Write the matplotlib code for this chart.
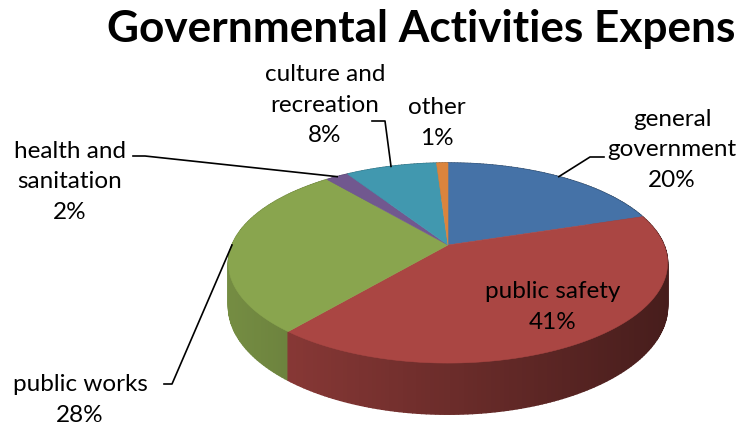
import matplotlib.pyplot as plt
import numpy as np
from matplotlib.patches import Polygon
from matplotlib.colors import to_rgb

# chart data
categories = ['general\ngovernment', 'public safety', 'public works',
              'health and\nsanitation', 'culture and\nrecreation', 'other']
shares = [20, 41, 28, 2, 8, 1]
colors = ['#4572A7', '#AA4643', '#89A54E', '#71588F', '#4198AF', '#DB843D']
title = 'Governmental Activities Expens'

# layout of the 3d pie (pixel space, y down)
CX, CY = 448, 245
RX, RY = 216, 96.8
PERSP = 0.18
DEPTH = 42

plt.rcParams['font.family'] = ['Lato', 'DejaVu Sans']

fig = plt.figure(figsize=(7.39, 4.34), dpi=100)
ax = fig.add_axes([0, 0, 1, 1])
ax.set_xlim(0, 739)
ax.set_ylim(434, 0)
ax.axis('off')


def project(theta, drop=0.0):
    # theta in degrees, clockwise starting at the back (12 o'clock)
    t = np.radians(theta)
    x, z = np.sin(t), np.cos(t)
    s = 1.0 / (1.0 + PERSP * z)
    return CX + RX * x * s, CY - RY * z * s + drop * s


total = float(sum(shares))
bounds = np.concatenate([[0], np.cumsum(shares)]) / total * 360.0

# side wall, drawn back to front
quads = []
for i, col in enumerate(colors):
    a0, a1 = bounds[i], bounds[i + 1]
    n = max(2, int(np.ceil(a1 - a0)))
    angs = np.linspace(a0, a1, n + 1)
    for j in range(n):
        ta, tb = angs[j], angs[j + 1]
        p1 = project(ta)
        p2 = project(tb)
        p3 = project(tb, DEPTH)
        p4 = project(ta, DEPTH)
        zc = np.cos(np.radians((ta + tb) / 2))
        xc = (p1[0] + p2[0]) / 2
        quads.append((zc, xc, [p1, p2, p3, p4], col))

quads.sort(key=lambda q: -q[0])
for zc, xc, pts, col in quads:
    f = 0.85 - 0.43 * (xc - (CX - RX)) / (2 * RX)
    shade = tuple(np.clip(np.array(to_rgb(col)) * f, 0, 1))
    ax.add_patch(Polygon(pts, closed=True, facecolor=shade, edgecolor=shade,
                         linewidth=1.0))

# top faces
for i, col in enumerate(colors):
    angs = np.linspace(bounds[i], bounds[i + 1], 120)
    xs, ys = project(angs)
    pts = [(CX, CY)] + list(zip(xs, ys))
    ax.add_patch(Polygon(pts, closed=True, facecolor=col, edgecolor=col,
                         linewidth=0.4))

mids = (bounds[:-1] + bounds[1:]) / 2
labels = [f'{c}\n{s:.0f}%' for c, s in zip(categories, shares)]

# label placement: text centre, elbow of leader (None = no leader)
label_pos = [(672, 150), (553, 307), (80, 400), (70, 182), (325, 105), (437, 123)]
elbows = [[(590, 157), (604, 157)],
          None,
          [(172, 384), (164, 384)],
          [(145, 156), (133, 156)],
          [(385, 121), (372, 121)],
          None]

for i, lab in enumerate(labels):
    tx, ty = label_pos[i]
    ax.text(tx, ty, lab, ha='center', va='center', fontsize=17.5,
            linespacing=1.55, color='black')
    if elbows[i] is not None:
        sx, sy = project(mids[i])
        px = [sx] + [p[0] for p in elbows[i]]
        py = [sy] + [p[1] for p in elbows[i]]
        ax.plot(px, py, color='black', linewidth=1.2)

ax.text(107, 29, title, ha='left', va='center', fontsize=31.8,
        fontweight='bold', color='black')

plt.savefig('out.png', dpi=100)
